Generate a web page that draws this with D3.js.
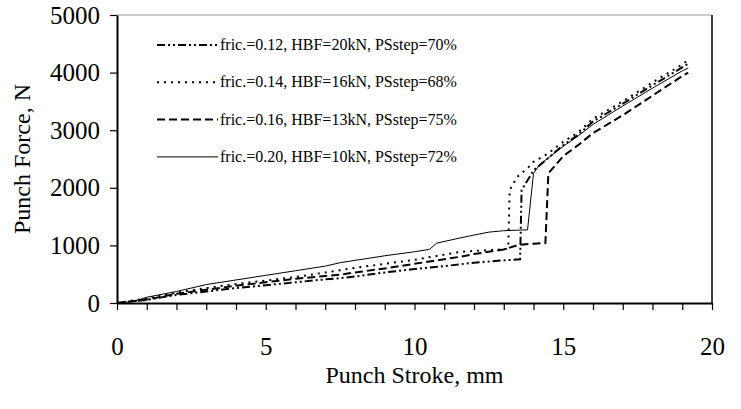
<!DOCTYPE html>
<html>
<head>
<meta charset="utf-8">
<script src="https://cdn.jsdelivr.net/npm/d3@7"></script>
<style>
  html, body { margin: 0; padding: 0; background: #fff; }
  svg { display: block; }
  text { font-family: "Liberation Serif", "Times New Roman", serif; fill: #000; }
</style>
</head>
<body>
<svg id="chart" width="741" height="409"></svg>
<script>
// Punch force vs. punch stroke, [stroke mm, force N]
const fric012 = [[0,0],[1,55],[2,140],[3,200],[4,260],[5,310],[6,360],[7,410],[7.5,430],[8,460],[9,530],[10,590],[11,640],[11.5,670],[12,700],[13,740],[13.55,760],[13.6,1960],[14,2300],[14.5,2520],[15,2740],[15.5,2920],[16,3150],[17,3460],[18,3780],[19,4090],[19.2,4150]];
const fric014 = [[0,0],[1,80],[2,180],[3,260],[4,330],[5,390],[6,450],[7,530],[7.5,570],[8,610],[9,680],[10,750],[11,840],[11.5,885],[12,905],[13,930],[13.15,950],[13.2,1960],[13.45,2190],[13.8,2340],[14,2450],[14.5,2600],[15,2800],[15.5,2960],[16,3200],[17,3500],[18,3830],[19,4140],[19.15,4200]];
const fric016 = [[0,0],[1,60],[2,160],[3,230],[4,300],[5,360],[6,420],[7,470],[7.5,490],[8,530],[9,600],[10,680],[11,760],[11.5,800],[12,850],[13,930],[13.5,1010],[14,1030],[14.4,1040],[14.5,2250],[15,2550],[15.5,2740],[16,2950],[17,3260],[18,3600],[19,3940],[19.2,4000]];
const fric020 = [[0,0],[0.5,20],[1,100],[2,200],[3,320],[4,400],[5,480],[6,560],[7,640],[7.5,700],[8,740],[9,820],[10,890],[10.5,930],[10.75,1040],[11.5,1125],[12,1180],[12.5,1230],[13,1255],[13.5,1265],[13.8,1270],[14,2250],[14.2,2400],[14.5,2520],[15,2720],[15.5,2900],[16,3100],[17,3420],[18,3730],[19,4030],[19.2,4080]];

const seriesLabels = [
  "fric.=0.12, HBF=20kN, PSstep=70%",
  "fric.=0.14, HBF=16kN, PSstep=68%",
  "fric.=0.16, HBF=13kN, PSstep=75%",
  "fric.=0.20, HBF=10kN, PSstep=72%"
];
const xTicks = [0,1,2,3,4,5,6,7,8,9,10,11,12,13,14,15,16,17,18,19,20];
const xTickLabels = [0,5,10,15,20];
const yTicks = [0,1000,2000,3000,4000,5000];

const series = [
  { data: fric012, label: seriesLabels[0], dash: "8,3,2,3,2,3", width: 2 },
  { data: fric014, label: seriesLabels[1], dash: "2,5", width: 2 },
  { data: fric016, label: seriesLabels[2], dash: "8,4", width: 2 },
  { data: fric020, label: seriesLabels[3], dash: null, width: 1 }
];

const svg = d3.select("#chart");
const plotLeft = 117, plotRight = 712, plotTop = 15, plotBottom = 303;

const x = d3.scaleLinear().domain([0, 20]).range([plotLeft, plotRight]);
const y = d3.scaleLinear().domain([0, 5000]).range([plotBottom, plotTop]);

svg.append("rect").attr("width", 741).attr("height", 409).attr("fill", "#fff");

// frame: top and right edges
svg.append("line").attr("x1", plotLeft).attr("x2", plotRight).attr("y1", plotTop).attr("y2", plotTop)
  .attr("stroke", "#999").attr("stroke-width", 1);
svg.append("line").attr("x1", plotRight).attr("x2", plotRight).attr("y1", plotTop).attr("y2", plotBottom)
  .attr("stroke", "#000").attr("stroke-width", 1.5);

// curves
const line = d3.line().x(d => x(d[0])).y(d => y(d[1]));
series.forEach(s => {
  svg.append("path")
    .datum(s.data)
    .attr("d", line)
    .attr("fill", "none")
    .attr("stroke", "#000")
    .attr("stroke-width", s.width)
    .attr("stroke-dasharray", s.dash);
});

// axes
const xAxis = d3.axisBottom(x)
  .tickValues(xTicks)
  .tickFormat(d => xTickLabels.includes(d) ? d : "")
  .tickSize(7).tickPadding(27).tickSizeOuter(0);
const gx = svg.append("g").attr("transform", `translate(0,${plotBottom})`).call(xAxis);

const yAxis = d3.axisLeft(y)
  .tickValues(yTicks)
  .tickFormat(d3.format("d"))
  .tickSize(7).tickPadding(10).tickSizeOuter(0);
const gy = svg.append("g").attr("transform", `translate(${plotLeft},0)`).call(yAxis);

[gx, gy].forEach(g => {
  g.select(".domain").attr("stroke", "#000").attr("stroke-width", 2);
  g.selectAll(".tick line").attr("stroke", "#000").attr("stroke-width", 1.2);
  g.selectAll(".tick text")
    .attr("font-family", '"Liberation Serif", "Times New Roman", serif')
    .attr("font-size", 25).attr("fill", "#000");
});

// axis titles
svg.append("text")
  .attr("x", (plotLeft + plotRight) / 2).attr("y", 383)
  .attr("text-anchor", "middle").attr("font-size", 24)
  .text("Punch Stroke, mm");
svg.append("text")
  .attr("transform", `translate(30,${(plotTop + plotBottom) / 2}) rotate(-90)`)
  .attr("text-anchor", "middle").attr("font-size", 24)
  .text("Punch Force, N");

// legend
const legend = svg.append("g");
series.forEach((s, i) => {
  const cy = 45 + i * 37.3;
  legend.append("line")
    .attr("x1", 157).attr("x2", 218).attr("y1", cy).attr("y2", cy)
    .attr("stroke", "#000").attr("stroke-width", s.width)
    .attr("stroke-dasharray", s.dash);
  legend.append("text")
    .attr("x", 220).attr("y", cy + 5)
    .attr("font-size", 16)
    .text(s.label);
});
</script>
</body>
</html>
